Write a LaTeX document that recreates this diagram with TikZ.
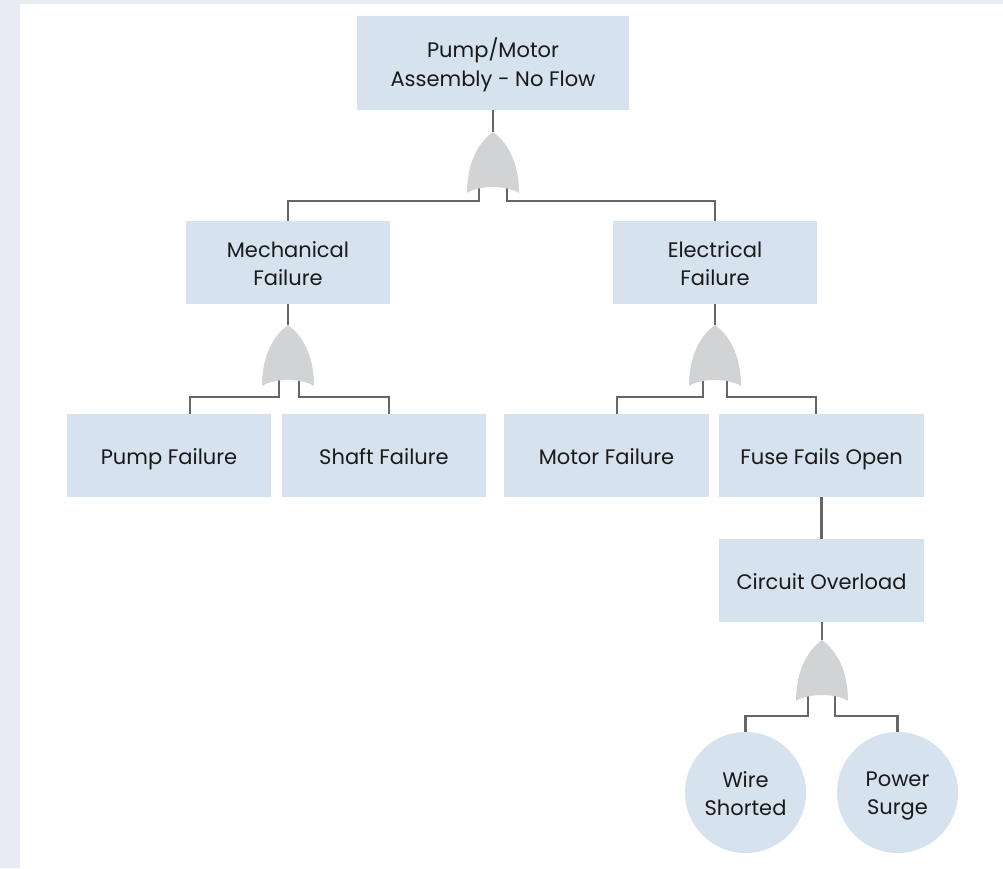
\documentclass[tikz,border=0pt]{standalone}
\usepackage{fontspec}
\setmainfont{Poppins}
\usetikzlibrary{positioning,calc}
\definecolor{bgout}{HTML}{E8ECF2}
\definecolor{boxfill}{HTML}{D6E2EE}
\definecolor{gatefill}{HTML}{D2D3D5}
\definecolor{linec}{HTML}{666666}
\definecolor{txt}{HTML}{1A1A1A}
\newcommand\lnstrut{\rule[-5.4pt]{0pt}{28pt}}
\tikzset{
  evbox/.style={rectangle, fill=boxfill, minimum width=204pt, minimum height=83pt, inner sep=0pt, align=center, text=txt, font=\fontsize{21}{28}\selectfont},
  evcirc/.style={circle, fill=boxfill, minimum size=121pt, inner sep=0pt, align=center, text=txt, font=\fontsize{21}{28}\selectfont},
  conn/.style={draw=linec, line width=2.7pt},
  orgate/.pic={
    \fill[gatefill] (-26,61) .. controls (-26,30) and (-14,10) .. (0,0)
       .. controls (14,10) and (26,30) .. (26,61)
       .. controls (14,53) and (-14,53) .. cycle;
    \coordinate (-tip) at (0,0);
    \coordinate (-l) at (-14,58);
    \coordinate (-r) at (14,58);
  }
}
\begin{document}
\begin{tikzpicture}[x=1pt,y=-1pt]
\fill[bgout] (0,0) rectangle (1003,868);
\fill[white] (20,4) rectangle (1003,868);
\useasboundingbox (0,0) rectangle (1003,868);

\node[evbox, minimum width=272pt, minimum height=94pt] (top) at (493,63) {\lnstrut Pump/Motor\\\lnstrut Assembly - No Flow};
\node[evbox] (mech) at (288,262.5) {\lnstrut Mechanical\\\lnstrut Failure};
\node[evbox] (elec) at (715,262.5) {\lnstrut Electrical\\\lnstrut Failure};
\node[evbox] (pump) at (169,455.5) {\lnstrut Pump Failure};
\node[evbox] (shaft) at (384,455.5) {\lnstrut Shaft Failure};
\node[evbox, minimum width=205pt] (motor) at (606.5,455.5) {\lnstrut Motor Failure};
\node[evbox, minimum width=205pt] (fuse) at (821.5,455.5) {\lnstrut Fuse Fails Open};
\node[evbox, minimum width=205pt] (circ) at (821.5,580.5) {\lnstrut Circuit Overload};
\node[evcirc] (wire) at (745.5,792.5) {\lnstrut Wire\\\lnstrut Shorted};
\node[evcirc] (surge) at (897.5,792.5) {\lnstrut Power\\\lnstrut Surge};

% connectors (drawn under gates)
\coordinate (g1a) at (493,132);
\coordinate (g2a) at (288,325);
\coordinate (g3a) at (715,325);
\coordinate (g4a) at (822,640);

\draw[conn] (top.south) -- (g1a);
\draw[conn] (mech.south) -- (g2a);
\draw[conn] (elec.south) -- (g3a);
\draw[conn] (circ.south -| g4a) -- (g4a);
\draw[conn] (fuse.south) -- (circ.north);

\coordinate (g1lb) at (479,201);
\coordinate (g1rb) at (507,201);
\coordinate (g2lb) at (279,397);
\coordinate (g2rb) at (299,397);
\coordinate (g3lb) at (703,397);
\coordinate (g3rb) at (727,397);
\coordinate (g4lb) at (808,716);
\coordinate (g4rb) at (835,716);

\draw[conn] (479,180) -- (g1lb) -| (mech.north);
\draw[conn] (507,180) -- (g1rb) -| (elec.north);
\draw[conn] (279,370) -- (g2lb) -| (190,414);
\draw[conn] (299,370) -- (g2rb) -| (389,414);
\draw[conn] (703,370) -- (g3lb) -| (617,414);
\draw[conn] (727,370) -- (g3rb) -| (816,414);
\draw[conn] (808,690) -- (g4lb) -| (wire.north);
\draw[conn] (835,690) -- (g4rb) -| (surge.north);

\pic (g1) at (g1a) {orgate};
\pic (g2) at (g2a) {orgate};
\pic (g3) at (g3a) {orgate};
\pic (g4) at (g4a) {orgate};
\end{tikzpicture}
\end{document}
